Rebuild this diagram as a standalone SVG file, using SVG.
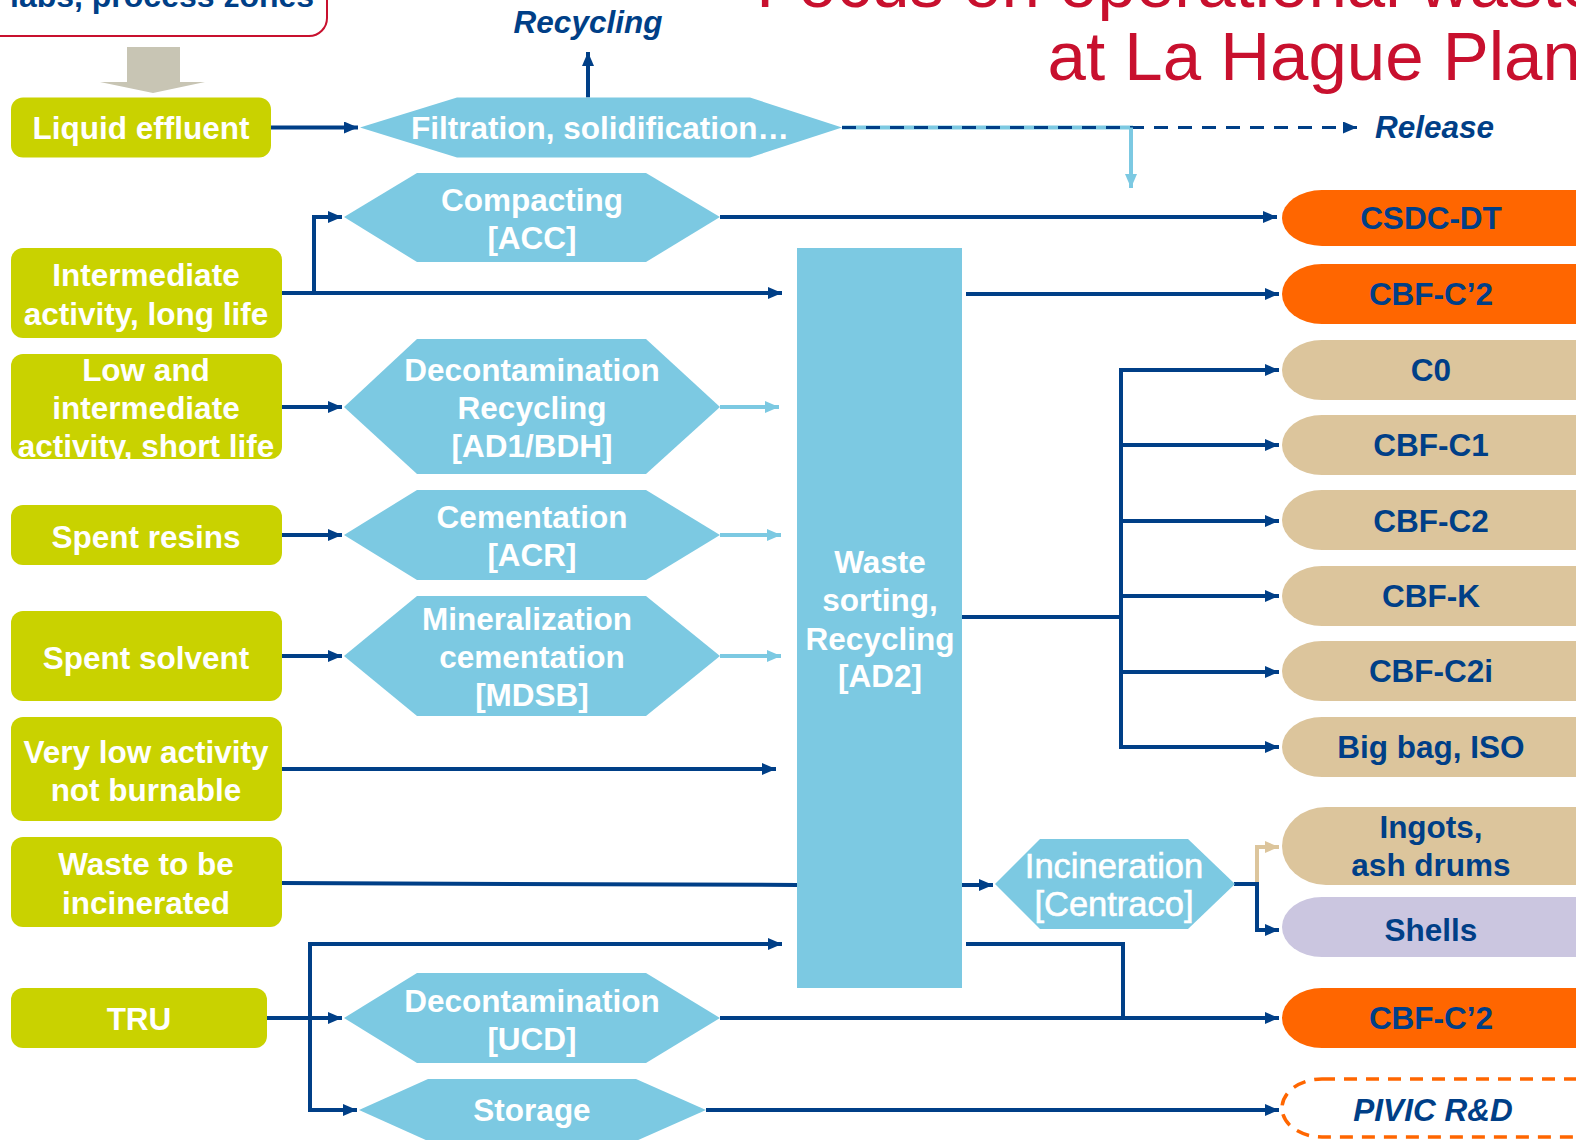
<svg xmlns="http://www.w3.org/2000/svg" width="1576" height="1140" viewBox="0 0 1576 1140">
  <style>
    text { font-family: "Liberation Sans", Arial, sans-serif; }
    .src { fill: #C9D200; }
    .proc { fill: #7CC9E2; }
    .w { fill: #FFFFFF; font-size: 31.5px; font-weight: bold; text-anchor: middle; }
    .d { fill: #003F87; font-size: 31.5px; font-weight: bold; text-anchor: middle; }
    .orange { fill: #FF6600; }
    .tan { fill: #DCC59C; }
    .lav { fill: #CBC6E0; }
    .ln { fill: none; stroke: #003F87; stroke-width: 4; }
    .lb { fill: none; stroke: #7CC9E2; stroke-width: 4; }
    .tl { fill: none; stroke: #DCC59C; stroke-width: 4; }
    .title { fill: #C8102E; font-size: 69px; text-anchor: end; }
  </style>
  <defs>
    <marker id="ah" markerWidth="14" markerHeight="12" refX="14" refY="6" orient="auto" markerUnits="userSpaceOnUse">
      <path d="M0,0 L14,6 L0,12 Z" fill="#003F87"/>
    </marker>
    <marker id="ahl" markerWidth="14" markerHeight="12" refX="14" refY="6" orient="auto" markerUnits="userSpaceOnUse">
      <path d="M0,0 L14,6 L0,12 Z" fill="#7CC9E2"/>
    </marker>
    <marker id="aht" markerWidth="14" markerHeight="12" refX="14" refY="6" orient="auto" markerUnits="userSpaceOnUse">
      <path d="M0,0 L14,6 L0,12 Z" fill="#DCC59C"/>
    </marker>
    <clipPath id="clipLow"><rect x="11" y="354" width="271" height="105" rx="12"/></clipPath>
  </defs>

  <rect width="1576" height="1140" fill="#FFFFFF"/>

  <!-- heading -->
  <g id="title">
    <text class="title" x="1600" y="7">Focus on operational waste</text>
    <text class="title" x="1600" y="80">at La Hague Plant</text>
  </g>

  <!-- origin box and its down arrow -->
  <g id="origin">
    <rect x="-20" y="-40" width="347" height="76" rx="18" fill="#FFFFFF" stroke="#C8102E" stroke-width="2"/>
    <text x="10" y="7" fill="#003F87" font-size="32" font-weight="bold">labs, process zones</text>
    <polygon points="127,47 180,47 180,82 205,82 153,93 100,82 127,82" fill="#C8C5B4"/>
  </g>

  <!-- connectors -->
  <g id="connectors">
    <line class="ln" x1="271" y1="127.5" x2="358" y2="127.5" marker-end="url(#ah)"/>
    <line class="ln" x1="588" y1="97.5" x2="588" y2="52" marker-end="url(#ah)"/>
    <line class="lb" x1="842" y1="127.5" x2="1133" y2="127.5"/>
    <line x1="842" y1="127.5" x2="1357" y2="127.5" stroke="#003F87" stroke-width="3" stroke-dasharray="14,10" marker-end="url(#ah)"/>
    <line class="lb" x1="1131" y1="127.5" x2="1131" y2="188" marker-end="url(#ahl)"/>

    <polyline class="ln" points="282,293 782,293" marker-end="url(#ah)"/>
    <polyline class="ln" points="314,293 314,217 342,217" marker-end="url(#ah)"/>
    <line class="ln" x1="720" y1="217" x2="1277" y2="217" marker-end="url(#ah)"/>
    <line class="ln" x1="966" y1="294" x2="1279" y2="294" marker-end="url(#ah)"/>

    <line class="ln" x1="282" y1="407" x2="342" y2="407" marker-end="url(#ah)"/>
    <line class="lb" x1="720" y1="407" x2="779" y2="407" marker-end="url(#ahl)"/>
    <line class="ln" x1="282" y1="535" x2="342" y2="535" marker-end="url(#ah)"/>
    <line class="lb" x1="720" y1="535" x2="781" y2="535" marker-end="url(#ahl)"/>
    <line class="ln" x1="282" y1="656" x2="342" y2="656" marker-end="url(#ah)"/>
    <line class="lb" x1="720" y1="656" x2="781" y2="656" marker-end="url(#ahl)"/>
    <line class="ln" x1="282" y1="769" x2="776" y2="769" marker-end="url(#ah)"/>
    <line class="ln" x1="282" y1="883" x2="797" y2="885"/>
    <line class="ln" x1="962" y1="885" x2="993" y2="885" marker-end="url(#ah)"/>

    <line class="ln" x1="962" y1="617" x2="1121" y2="617"/>
    <line class="ln" x1="1121" y1="368" x2="1121" y2="749"/>
    <line class="ln" x1="1119" y1="370" x2="1279" y2="370" marker-end="url(#ah)"/>
    <line class="ln" x1="1121" y1="445" x2="1279" y2="445" marker-end="url(#ah)"/>
    <line class="ln" x1="1121" y1="521" x2="1279" y2="521" marker-end="url(#ah)"/>
    <line class="ln" x1="1121" y1="596" x2="1279" y2="596" marker-end="url(#ah)"/>
    <line class="ln" x1="1121" y1="672" x2="1279" y2="672" marker-end="url(#ah)"/>
    <line class="ln" x1="1119" y1="747" x2="1279" y2="747" marker-end="url(#ah)"/>

    <polyline class="tl" points="1257,884 1257,847 1279,847" marker-end="url(#aht)"/>
    <line class="ln" x1="1234" y1="884" x2="1259" y2="884"/>
    <polyline class="ln" points="1257,884 1257,930 1279,930" marker-end="url(#ah)"/>

    <polyline class="ln" points="966,944 1123,944 1123,1018"/>

    <line class="ln" x1="267" y1="1018" x2="342" y2="1018" marker-end="url(#ah)"/>
    <line class="ln" x1="310" y1="942" x2="310" y2="1112"/>
    <line class="ln" x1="308" y1="944" x2="782" y2="944" marker-end="url(#ah)"/>
    <line class="ln" x1="308" y1="1110" x2="357" y2="1110" marker-end="url(#ah)"/>
    <line class="ln" x1="720" y1="1018" x2="1279" y2="1018" marker-end="url(#ah)"/>
    <line class="ln" x1="706" y1="1110" x2="1279" y2="1110" marker-end="url(#ah)"/>
  </g>

  <!-- waste sources -->
  <g id="liquid-effluent">
    <rect class="src" x="11" y="97.5" width="260" height="60" rx="12"/>
    <text class="w" x="141" y="138.5">Liquid effluent</text>
  </g>
  <g id="ia-long-life">
    <rect class="src" x="11" y="248" width="271" height="90" rx="12"/>
    <text class="w" x="146" y="286">Intermediate</text>
    <text class="w" x="146" y="325">activity, long life</text>
  </g>
  <g id="lia-short-life">
    <rect class="src" x="11" y="354" width="271" height="105" rx="12"/>
    <g clip-path="url(#clipLow)">
      <text class="w" x="146" y="381">Low and</text>
      <text class="w" x="146" y="419">intermediate</text>
      <text class="w" x="146" y="457">activity, short life</text>
    </g>
  </g>
  <g id="spent-resins">
    <rect class="src" x="11" y="505" width="271" height="60" rx="12"/>
    <text class="w" x="146" y="548">Spent resins</text>
  </g>
  <g id="spent-solvent">
    <rect class="src" x="11" y="611" width="271" height="90" rx="12"/>
    <text class="w" x="146" y="669">Spent solvent</text>
  </g>
  <g id="very-low">
    <rect class="src" x="11" y="717" width="271" height="104" rx="12"/>
    <text class="w" x="146" y="763">Very low activity</text>
    <text class="w" x="146" y="801">not burnable</text>
  </g>
  <g id="to-incinerate">
    <rect class="src" x="11" y="837" width="271" height="90" rx="12"/>
    <text class="w" x="146" y="875">Waste to be</text>
    <text class="w" x="146" y="914">incinerated</text>
  </g>
  <g id="tru">
    <rect class="src" x="11" y="988" width="256" height="60" rx="12"/>
    <text class="w" x="139" y="1030">TRU</text>
  </g>

  <!-- treatment units -->
  <g id="filtration">
    <polygon class="proc" points="360,127.5 457,97.5 750,97.5 842,127.5 750,157.5 457,157.5"/>
    <text class="w" x="600" y="139">Filtration, solidification…</text>
  </g>
  <text x="588" y="33" fill="#003F87" font-size="31.5" font-weight="bold" font-style="italic" text-anchor="middle">Recycling</text>
  <text x="1375" y="138" fill="#003F87" font-size="31.5" font-weight="bold" font-style="italic">Release</text>

  <g id="acc">
    <polygon class="proc" points="344,217 417,173 646,173 720,217 646,262 417,262"/>
    <text class="w" x="532" y="211">Compacting</text>
    <text class="w" x="532" y="249">[ACC]</text>
  </g>
  <g id="ad1-bdh">
    <polygon class="proc" points="344,407 417,339 646,339 720,407 646,474 417,474"/>
    <text class="w" x="532" y="381">Decontamination</text>
    <text class="w" x="532" y="419">Recycling</text>
    <text class="w" x="532" y="457">[AD1/BDH]</text>
  </g>
  <g id="acr">
    <polygon class="proc" points="344,535 417,490 646,490 720,535 646,580 417,580"/>
    <text class="w" x="532" y="528">Cementation</text>
    <text class="w" x="532" y="566">[ACR]</text>
  </g>
  <g id="mdsb">
    <polygon class="proc" points="344,656 417,596 646,596 720,656 646,716 417,716"/>
    <text class="w" x="527" y="630">Mineralization</text>
    <text class="w" x="532" y="668">cementation</text>
    <text class="w" x="532" y="706">[MDSB]</text>
  </g>
  <g id="ucd">
    <polygon class="proc" points="344,1018 417,973 646,973 720,1018 646,1063 417,1063"/>
    <text class="w" x="532" y="1012">Decontamination</text>
    <text class="w" x="532" y="1050">[UCD]</text>
  </g>
  <g id="storage">
    <polygon class="proc" points="359,1110 428,1079 636,1079 706,1110 636,1141 428,1141"/>
    <text class="w" x="532" y="1121">Storage</text>
  </g>
  <g id="ad2">
    <rect class="proc" x="797" y="248" width="165" height="740"/>
    <text class="w" x="880" y="573">Waste</text>
    <text class="w" x="880" y="611">sorting,</text>
    <text class="w" x="880" y="650">Recycling</text>
    <text class="w" x="880" y="687">[AD2]</text>
  </g>
  <g id="centraco">
    <polygon class="proc" points="995,884 1040,839 1188,839 1235,884 1188,929 1040,929"/>
    <text x="1114" y="878" fill="#FFFFFF" font-size="34.5" text-anchor="middle" stroke="#FFFFFF" stroke-width="0.6">Incineration</text>
    <text x="1114" y="916" fill="#FFFFFF" font-size="34.5" text-anchor="middle" stroke="#FFFFFF" stroke-width="0.6">[Centraco]</text>
  </g>

  <!-- packages / destinations -->
  <g id="csdc-dt">
    <rect class="orange" x="1282" y="190" width="360" height="56" rx="40" ry="28"/>
    <text class="d" x="1431" y="229">CSDC-DT</text>
  </g>
  <g id="cbf-c2p-a">
    <rect class="orange" x="1282" y="264" width="360" height="60" rx="40" ry="30"/>
    <text class="d" x="1431" y="305">CBF-C’2</text>
  </g>
  <g id="c0">
    <rect class="tan" x="1282" y="340" width="360" height="60" rx="40" ry="30"/>
    <text class="d" x="1431" y="381">C0</text>
  </g>
  <g id="cbf-c1">
    <rect class="tan" x="1282" y="415" width="360" height="60" rx="40" ry="30"/>
    <text class="d" x="1431" y="456">CBF-C1</text>
  </g>
  <g id="cbf-c2">
    <rect class="tan" x="1282" y="490" width="360" height="60" rx="40" ry="30"/>
    <text class="d" x="1431" y="532">CBF-C2</text>
  </g>
  <g id="cbf-k">
    <rect class="tan" x="1282" y="566" width="360" height="60" rx="40" ry="30"/>
    <text class="d" x="1431" y="607">CBF-K</text>
  </g>
  <g id="cbf-c2i">
    <rect class="tan" x="1282" y="641" width="360" height="60" rx="40" ry="30"/>
    <text class="d" x="1431" y="682">CBF-C2i</text>
  </g>
  <g id="big-bag">
    <rect class="tan" x="1282" y="717" width="360" height="60" rx="40" ry="30"/>
    <text class="d" x="1431" y="758">Big bag, ISO</text>
  </g>
  <g id="ingots">
    <rect class="tan" x="1282" y="807" width="360" height="78" rx="44" ry="39"/>
    <text class="d" x="1431" y="838">Ingots,</text>
    <text class="d" x="1431" y="876">ash drums</text>
  </g>
  <g id="shells">
    <rect class="lav" x="1282" y="897" width="360" height="60" rx="40" ry="30"/>
    <text class="d" x="1431" y="941">Shells</text>
  </g>
  <g id="cbf-c2p-b">
    <rect class="orange" x="1282" y="988" width="360" height="60" rx="40" ry="30"/>
    <text class="d" x="1431" y="1029">CBF-C’2</text>
  </g>
  <g id="pivic">
    <rect x="1282" y="1079" width="360" height="58" rx="40" ry="29" fill="none" stroke="#FF6600" stroke-width="3.5" stroke-dasharray="13,9"/>
    <text class="d" x="1433" y="1121" font-style="italic">PIVIC R&amp;D</text>
  </g>
</svg>
